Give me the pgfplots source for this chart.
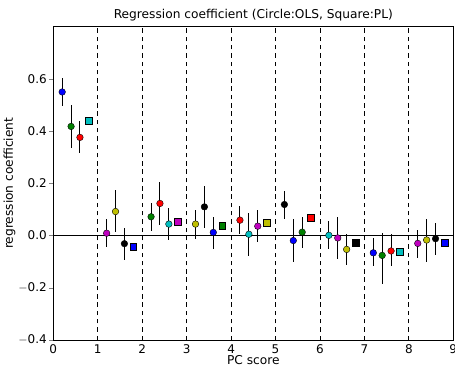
\documentclass[border=0pt]{standalone}
\usepackage{fontspec}
\setmainfont{DejaVu Sans}
\usepackage{pgfplots}
\pgfplotsset{compat=1.18}
\definecolor{mb}{rgb}{0,0,1}
\definecolor{mg}{rgb}{0,0.5,0}
\definecolor{mr}{rgb}{1,0,0}
\definecolor{mc}{rgb}{0,0.75,0.75}
\definecolor{mm}{rgb}{0.75,0,0.75}
\definecolor{my}{rgb}{0.75,0.75,0}
\definecolor{mk}{rgb}{0,0,0}
\begin{document}
\begin{tikzpicture}
\begin{axis}[
  scale only axis, width=400pt, height=313.3pt,
  xmin=0, xmax=9, ymin=-0.4, ymax=0.8,
  xtick={0,1,...,9}, ytick={-0.4,-0.2,0,0.2,0.4,0.6},
  yticklabels={$-$0.4,$-$0.2,0.0,0.2,0.4,0.6},
  /pgf/number format/assume math mode=true,
  font=\fontsize{12.2}{14}\selectfont,
  tick label style={font=\fontsize{12}{14}\selectfont},
  xtick pos=bottom, ytick pos=left, tick align=outside,
  major tick length=4pt,
  x tick style={draw=none},
  axis line style={line width=0.8pt},
  title={Regression coefficient (Circle:OLS, Square:PL)},
  title style={yshift=-4pt},
  xlabel={PC score}, ylabel={regression coefficient},
  xlabel style={yshift=5pt},
  ylabel style={yshift=-4pt},
  yticklabel style={xshift=1pt},
  xticklabel style={yshift=3pt},
  clip=false,
  errb/.style={only marks, mark=*, mark size=3.3pt,
    mark options={draw=black, fill=#1, line width=0.4pt},
    error bars/.cd, y dir=both, y explicit, error mark=none,
    error bar style={line width=1pt, black}},
  sq/.style={only marks, mark=square*, mark size=3.4pt,
    mark options={draw=black, fill=#1, line width=0.5pt}},
]
% reference lines
\addplot[black, line width=1pt, forget plot] coordinates {(0,0) (9,0)};
\foreach \v in {1,...,8}{
  \edef\tmp{\noexpand\addplot[black, line width=0.9pt, dash pattern=on 4.5pt off 3.8pt, forget plot] coordinates {(\v,-0.4) (\v,0.8)};}
  \tmp
}
% OLS circles with error bars
\addplot[errb=mb] coordinates {
  (0.2,0.55) += (0,0.053) -= (0,0.054)
  (3.6,0.012) += (0,0.061) -= (0,0.063)
  (5.4,-0.019) += (0,0.081) -= (0,0.081)
  (7.2,-0.066) += (0,0.055) -= (0,0.051)
};
\addplot[errb=mg] coordinates {
  (0.4,0.418) += (0,0.081) -= (0,0.083)
  (2.2,0.072) += (0,0.054) -= (0,0.053)
  (5.6,0.013) += (0,0.06) -= (0,0.062)
  (7.4,-0.076) += (0,0.084) -= (0,0.11)
};
\addplot[errb=mr] coordinates {
  (0.6,0.376) += (0,0.061) -= (0,0.06)
  (2.4,0.123) += (0,0.081) -= (0,0.083)
  (4.2,0.059) += (0,0.053) -= (0,0.052)
  (7.6,-0.059) += (0,0.064) -= (0,0.057)
};
\addplot[errb=mc] coordinates {
  (2.6,0.044) += (0,0.062) -= (0,0.061)
  (4.4,0.005) += (0,0.08) -= (0,0.082)
  (6.2,0.001) += (0,0.053) -= (0,0.054)
};
\addplot[errb=mm] coordinates {
  (1.2,0.009) += (0,0.053) -= (0,0.054)
  (4.6,0.036) += (0,0.061) -= (0,0.062)
  (6.4,-0.009) += (0,0.082) -= (0,0.081)
  (8.2,-0.03) += (0,0.052) -= (0,0.055)
};
\addplot[errb=my] coordinates {
  (1.4,0.092) += (0,0.081) -= (0,0.08)
  (3.2,0.044) += (0,0.053) -= (0,0.056)
  (6.6,-0.053) += (0,0.06) -= (0,0.06)
  (8.4,-0.017) += (0,0.082) -= (0,0.083)
};
\addplot[errb=mk] coordinates {
  (1.6,-0.031) += (0,0.061) -= (0,0.062)
  (3.4,0.11) += (0,0.08) -= (0,0.08)
  (5.2,0.119) += (0,0.052) -= (0,0.054)
  (8.6,-0.012) += (0,0.061) -= (0,0.061)
};
% PL squares
\addplot[sq=mc] coordinates {(0.8,0.44) (7.8,-0.063)};
\addplot[sq=mb] coordinates {(1.8,-0.043) (8.8,-0.027)};
\addplot[sq=mm] coordinates {(2.8,0.053)};
\addplot[sq=mg] coordinates {(3.8,0.038)};
\addplot[sq=my] coordinates {(4.8,0.048)};
\addplot[sq=mr] coordinates {(5.8,0.067)};
\addplot[sq=mk] coordinates {(6.8,-0.026)};
\end{axis}
\pgfresetboundingbox
\useasboundingbox (-53.3pt,-27pt) rectangle (401.7pt,340pt);
\end{tikzpicture}
\end{document}
